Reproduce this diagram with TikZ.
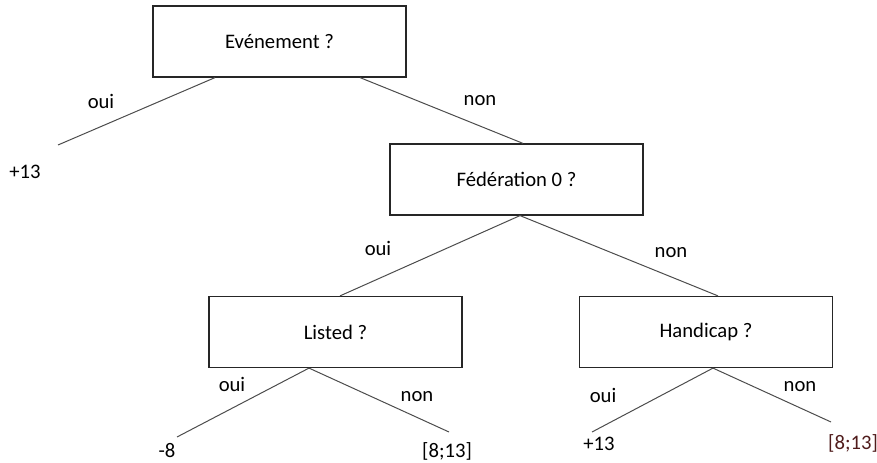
\documentclass[tikz,border=0pt]{standalone}
\usepackage{fontspec}
\setmainfont{Carlito}
\usetikzlibrary{calc}

\definecolor{leafred}{RGB}{80,28,28}

\tikzset{every picture/.style={line width=0.75pt}}
\tikzset{
  qbox/.style={draw=black!85, line width=0.9pt, minimum width=189.75pt, minimum height=53.25pt, inner sep=0pt},
  branch/.style={draw=black!70, line width=0.75pt},
  txt/.style={inner sep=0pt}
}

\begin{document}
\begin{tikzpicture}[x=0.75pt,y=0.75pt,yscale=-1,xscale=1,font=\fontsize{15.5}{18}\selectfont]
\useasboundingbox (0,0) rectangle (877,463);

%Shape: Rectangle [id:evt]
\node [qbox] (evt) at (279.5,41.5) {Evénement ?};
%Shape: Rectangle [id:fed]
\node [qbox] (fed) at (516.5,179.5) {Fédération 0 ?};
%Shape: Rectangle [id:lst]
\node [qbox] (lst) at (335.5,332) {Listed ?};
%Shape: Rectangle [id:hcp]
\node [qbox] (hcp) at (706,332) {Handicap ?};

%free ends
\coordinate (evtL) at (58,145);
\coordinate (lstL) at (177,437);
\coordinate (lstR) at (449,432);
\coordinate (hcpL) at (592,432);
\coordinate (hcpR) at (831,422);

%Straight Lines
\draw [branch] ($(evt.south)+(-64.5,0)$) -- (evtL) ;
\draw [branch] ($(evt.south)+(80.5,0)$) -- ($(fed.north)+(6.5,0)$) ;
%Straight Lines
\draw [branch] ($(fed.south)+(3.5,0)$) -- ($(lst.north)+(4.5,0)$) ;
\draw [branch] ($(fed.south)+(3.5,0)$) -- ($(hcp.north)+(12,0)$) ;
%Straight Lines
\draw [branch] ($(lst.south)+(-26.5,0)$) -- (lstL) ;
\draw [branch] ($(lst.south)+(-26.5,0)$) -- (lstR) ;
%Straight Lines
\draw [branch] ($(hcp.south)+(7,0)$) -- (hcpL) ;
\draw [branch] ($(hcp.south)+(7,0)$) -- (hcpR) ;

% Text Node
\node [txt] (o1) at (101,101) {oui};
% Text Node
\node [txt] (n1) at (480,101) {non};
% Text Node
\node [txt] (v1) at (25,172) {+13};
% Text Node
\node [txt] (o2) at (378,248) {oui};
% Text Node
\node [txt] (n2) at (671,253) {non};
% Text Node
\node [txt] (o3) at (232,384) {oui};
% Text Node
\node [txt] (n3) at (417,397) {non};
% Text Node
\node [txt] (v2) at (167,451) {-8};
% Text Node
\node [txt] (v3) at (447,451) {[8;13]};
% Text Node
\node [txt] (o4) at (603,395) {oui};
% Text Node
\node [txt] (n4) at (800,387) {non};
% Text Node
\node [txt] (v4) at (599,444) {+13};
% Text Node
\node [txt, text=leafred] (v5) at (853,443) {[8;13]};

\end{tikzpicture}
\end{document}
